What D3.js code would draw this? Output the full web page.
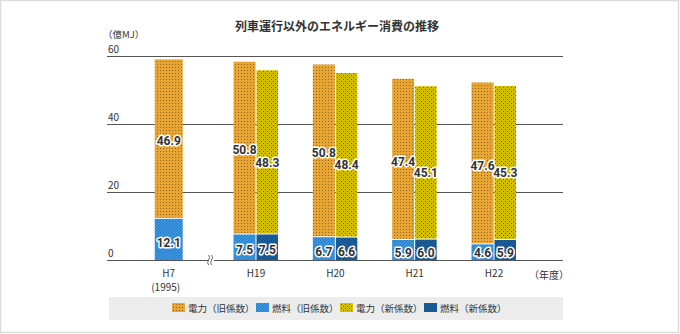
<!DOCTYPE html>
<html>
<head>
<meta charset="utf-8">
<script src="https://cdn.jsdelivr.net/npm/d3@7"></script>
<style>
body { margin: 0; background: #fff; }
svg { display: block; font-family: "Noto Sans CJK JP", "Noto Sans", sans-serif; }
</style>
</head>
<body>
<svg width="680" height="334"></svg>
<script>
var years = ["H7", "H19", "H20", "H21", "H22"];
var subLabels = ["(1995)", "", "", "", ""];
var elecOld = [46.9, 50.8, 50.8, 47.4, 47.6];
var fuelOld = [12.1, 7.5, 6.7, 5.9, 4.6];
var elecNew = [null, 48.3, 48.4, 45.1, 45.3];
var fuelNew = [null, 7.5, 6.6, 6.0, 5.9];
var yTicks = [0, 20, 40, 60];
var legendNames = ["電力（旧係数）", "燃料（旧係数）", "電力（新係数）", "燃料（新係数）"];

var svg = d3.select("svg"),
	plotL = 107, plotR = 563, plotT = 56, plotB = 260;

// frame
svg.append("rect").attr("x", 0.5).attr("y", 0.5).attr("width", 678).attr("height", 332)
	.attr("fill", "#fff").attr("stroke", "#dcdcdc").attr("stroke-width", 1.5);

// patterns
var defs = svg.append("defs");
function dots(id, bg, fg, size, stagger) {
	var p = defs.append("pattern").attr("id", id).attr("patternUnits", "userSpaceOnUse")
		.attr("width", size).attr("height", size);
	p.append("rect").attr("width", size).attr("height", size).attr("fill", bg);
	p.append("rect").attr("x", 1).attr("y", 1).attr("width", 1).attr("height", 1).attr("fill", fg);
	if (stagger) p.append("rect").attr("x", 1 + size / 2).attr("y", 1 + size / 2).attr("width", 1).attr("height", 1).attr("fill", fg);
}
function hatch(id, bg, fg, dir) {
	var p = defs.append("pattern").attr("id", id).attr("patternUnits", "userSpaceOnUse")
		.attr("width", 3).attr("height", 3);
	p.append("rect").attr("width", 3).attr("height", 3).attr("fill", bg);
	var d = dir > 0 ? "M0,3 L3,0 M-1,1 L1,-1 M2,4 L4,2" : "M0,0 L3,3 M-1,2 L1,4 M2,-1 L4,1";
	p.append("path").attr("d", d).attr("stroke", fg).attr("stroke-width", 0.8);
}
dots("pEo", "#e8a531", "#8f6a26", 3, false);
dots("pEn", "#d3bd00", "#6e6500", 4, true);
hatch("pFo", "#3d98e2", "#226fbe", 1);
hatch("pFn", "#1c64a3", "#0c3d6e", -1);
var fills = ["url(#pEo)", "url(#pFo)", "url(#pEn)", "url(#pFn)"];

var y = d3.scaleLinear().domain([0, 60]).range([plotB, plotT]);
var x = d3.scalePoint().domain(years.slice(1)).range([256, 494]);
function cx(i) { return i === 0 ? x("H19") - x.step() * 1.1 : x(years[i]); }

// title
svg.append("text").attr("x", 337).attr("y", 31).attr("text-anchor", "middle")
	.attr("font-size", 12).attr("font-weight", "bold").attr("fill", "#333")
	.text("列車運行以外のエネルギー消費の推移");
svg.append("text").attr("x", plotL - 4).attr("y", 38).attr("font-size", 9.5).attr("fill", "#333").text("（億MJ）");

// grid
var grid = svg.append("g");
grid.selectAll("line").data(yTicks).enter().append("line")
	.attr("x1", plotL).attr("x2", plotR)
	.attr("y1", function (d) { return y(d) + 0.5; })
	.attr("y2", function (d) { return y(d) + 0.5; })
	.attr("stroke", "#555").attr("stroke-width", 1);
grid.selectAll("text").data(yTicks).enter().append("text")
	.attr("x", plotL + 1).attr("y", function (d) { return y(d) - 3; })
	.attr("font-size", 10).attr("fill", "#333")
	.text(function (d) { return d; });

// bars
var rows = [];
years.forEach(function (yr, i) {
	var single = elecNew[i] == null;
	var w = single ? 28 : 22;
	var oldX = single ? cx(i) - 14 : cx(i) - 22.5;
	rows.push({ x: oldX, w: w, v0: 0, v1: fuelOld[i], fill: fills[1], label: fuelOld[i], kind: "fuel", newBar: false });
	rows.push({ x: oldX, w: w, v0: fuelOld[i], v1: fuelOld[i] + elecOld[i], fill: fills[0], label: elecOld[i], kind: "elec", newBar: false });
	if (!single) {
		rows.push({ x: cx(i) + 0.5, w: 21.5, v0: 0, v1: fuelNew[i], fill: fills[3], label: fuelNew[i], kind: "fuel", newBar: true });
		rows.push({ x: cx(i) + 0.5, w: 21.5, v0: fuelNew[i], v1: fuelNew[i] + elecNew[i], fill: fills[2], label: elecNew[i], kind: "elec", newBar: true });
	}
});

svg.append("g").selectAll("rect").data(rows).enter().append("rect")
	.attr("x", function (d) { return d.x; })
	.attr("y", function (d) { return y(d.v1); })
	.attr("width", function (d) { return d.w; })
	.attr("height", function (d) { return y(d.v0) - y(d.v1) - (d.v0 > 0 ? 1 : 0); })
	.attr("fill", function (d) { return d.fill; });

// value labels
var labels = svg.append("g").attr("font-size", 12).attr("font-weight", "bold")
	.attr("text-anchor", "middle").attr("font-family", "Roboto, sans-serif");
labels.selectAll("text").data(rows).enter().append("text")
	.attr("x", function (d) { return d.x + d.w / 2; })
	.attr("y", function (d) {
		var m = y((d.v0 + d.v1) / 2);
		if (d.kind === "fuel") return Math.min(m + 3, plotB - 7);
		return d.newBar ? m + 10 : m + 2;
	})
	.attr("dy", "0.35em")
	.attr("fill", "#333").attr("stroke", "#fff").attr("stroke-width", 3)
	.attr("stroke-linejoin", "round").attr("paint-order", "stroke")
	.text(function (d) { return d.label.toFixed(1); });

// axis break
var bx = (cx(0) + 14 + cx(1) - 22.5) / 2 + 3;
svg.append("rect").attr("x", bx - 3).attr("y", plotB - 2).attr("width", 6).attr("height", 5).attr("fill", "#fff");
[-1.5, 1.5].forEach(function (o) {
	svg.append("path")
		.attr("d", "M" + (bx + o - 1) + "," + (plotB - 5) + " q2,2.5 0,5 q-2,2.5 0,5")
		.attr("fill", "none").attr("stroke", "#555").attr("stroke-width", 0.9);
});

// x labels
var xl = svg.append("g").attr("font-size", 10).attr("fill", "#333").attr("text-anchor", "middle");
years.forEach(function (yr, i) {
	xl.append("text").attr("x", cx(i)).attr("y", 277).text(yr);
	if (subLabels[i]) xl.append("text").attr("x", cx(i) - 3).attr("y", 290.5).text(subLabels[i]);
});
xl.append("text").attr("x", 549).attr("y", 279).text("（年度）");

// legend
svg.append("rect").attr("x", 109).attr("y", 297).attr("width", 454).attr("height", 23).attr("fill", "#ececec");
var lg = svg.append("g").selectAll("g").data(legendNames).enter().append("g")
	.attr("transform", function (d, i) { return "translate(" + (172 + i * 84) + ",303)"; });
lg.append("rect").attr("width", 13).attr("height", 9)
	.attr("fill", function (d, i) { return fills[i]; });
lg.append("text").attr("x", 16).attr("y", 8.5).attr("font-size", 9.5).attr("fill", "#333")
	.text(function (d) { return d; });
</script>
</body>
</html>
